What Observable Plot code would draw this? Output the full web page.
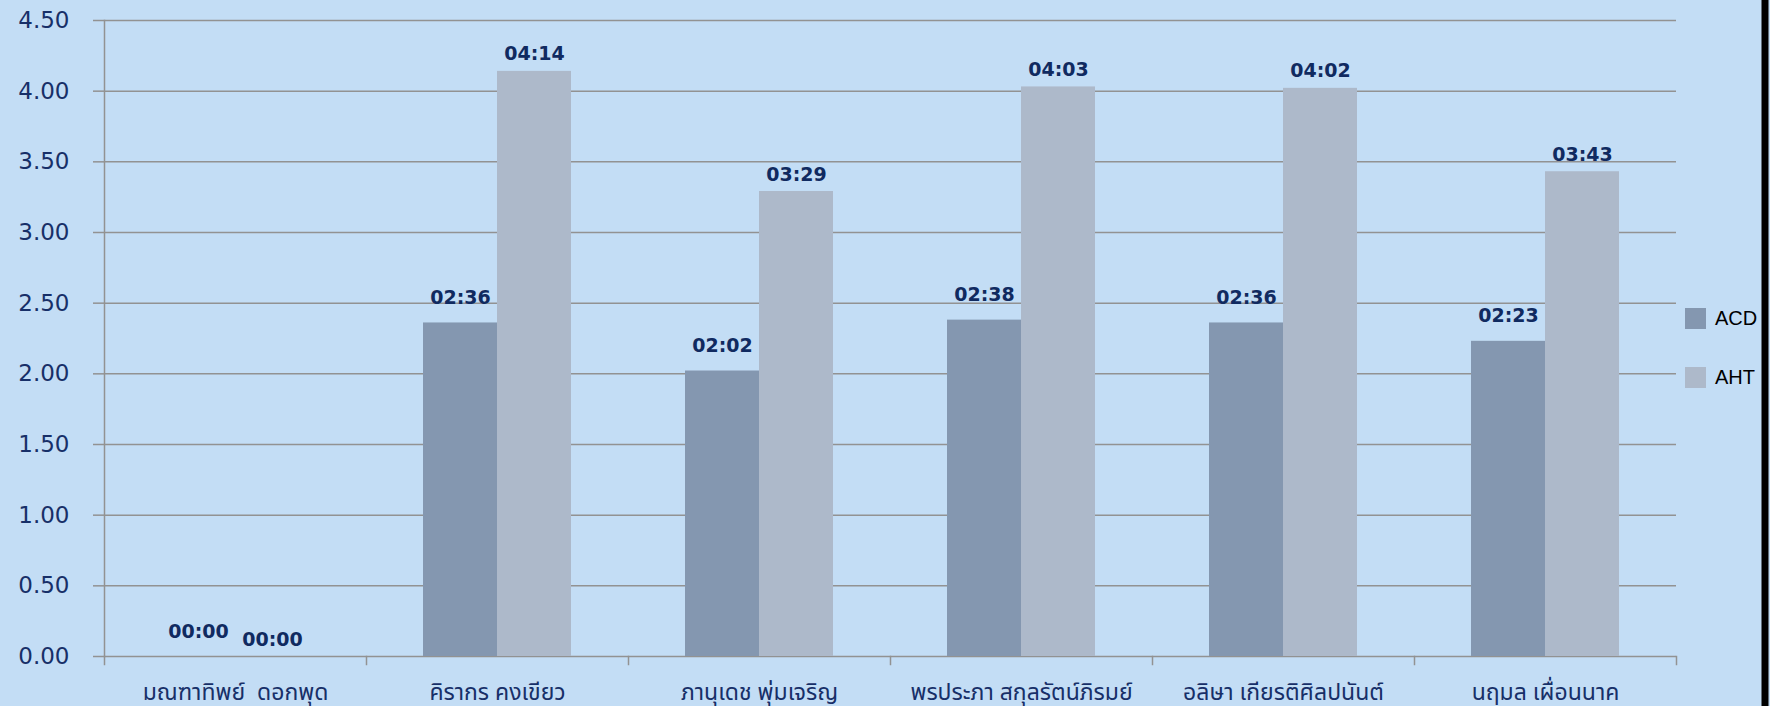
<!DOCTYPE html>
<html>
<head>
<meta charset="utf-8">
<script src="https://cdn.jsdelivr.net/npm/d3@7"></script>
<script src="https://cdn.jsdelivr.net/npm/@observablehq/plot@0.6"></script>
<style>
  html, body { margin: 0; padding: 0; background: #c3ddf5; overflow: hidden; }
  #wrap { position: relative; width: 1770px; height: 706px; overflow: hidden; background: #c3ddf5; }
  #wrap svg { display: block; position: absolute; left: 0; top: 0; }
  .legend { position: absolute; left: 1685px; display: flex; align-items: center; z-index: 5;
            font-family: "Liberation Sans", Arial, sans-serif; font-size: 20px; color: #000; }
  .sw { width: 21px; height: 21px; margin-right: 9px; }
</style>
</head>
<body>
<div id="wrap"></div>
<script>
const agents = ["มณฑาทิพย์  ดอกพุด", "คิรากร คงเขียว", "ภานุเดช พุ่มเจริญ", "พรประภา สกุลรัตน์ภิรมย์", "อลิษา เกียรติศิลปนันต์", "นฤมล เผื่อนนาค"];
const series = ["ACD", "AHT"];
const acdValues = [0, 2.36, 2.02, 2.38, 2.36, 2.23];
const ahtValues = [0, 4.14, 3.29, 4.03, 4.02, 3.43];
const acdLabels = ["00:00", "02:36", "02:02", "02:38", "02:36", "02:23"];
const ahtLabels = ["00:00", "04:14", "03:29", "04:03", "04:02", "03:43"];
const yTicks = [0, 0.5, 1, 1.5, 2, 2.5, 3, 3.5, 4, 4.5];
const seriesColors = ["#8497b0", "#adb9ca"];

const rows = [];
agents.forEach((a, i) => {
  rows.push({agent: a, series: "ACD", value: acdValues[i], label: acdLabels[i]});
  rows.push({agent: a, series: "AHT", value: ahtValues[i], label: ahtLabels[i]});
});

const W = 1770, H = 706;
const mTop = 20, mBottom = 50, mLeft = 102, mRight = 92;
const frameH = H - mTop - mBottom;
const gridColor = "#929292";
const navy = "#172f68";
const labelStyle = {text: "label", lineAnchor: "middle", fontWeight: "bold", fontSize: 19,
  fill: "#102a60", fontFamily: "DejaVu Sans", letterSpacing: "1.2px"};

const chart = Plot.plot({
  width: W, height: H,
  marginTop: mTop, marginBottom: mBottom, marginLeft: mLeft, marginRight: mRight,
  style: {background: "transparent", overflow: "visible"},
  fx: {domain: agents, padding: 0, label: null},
  x: {domain: series, paddingInner: 0, paddingOuter: 0.751, axis: null},
  y: {domain: [0, 4.5], label: null},
  color: {domain: series, range: seriesColors},
  marks: [
    Plot.gridY(yTicks, {stroke: gridColor, strokeOpacity: 1, strokeWidth: 1.5}),
    Plot.frame({anchor: "left", stroke: gridColor, strokeWidth: 1.5, insetTop: frameH, insetBottom: -8}),
    Plot.frame({anchor: "right", facetAnchor: "right", stroke: gridColor, strokeWidth: 1.5, insetTop: frameH, insetBottom: -8}),
    Plot.frame({anchor: "left", facetAnchor: "left", stroke: gridColor, strokeWidth: 1.5}),
    // black strip along the picture's right edge
    Plot.frame({anchor: "right", facetAnchor: "right", stroke: "#000", strokeWidth: 7,
      insetRight: -(mRight - 3.5), insetTop: -mTop, insetBottom: -mBottom}),
    Plot.axisY({ticks: yTicks, tickFormat: d3.format(".2f"), tickSize: 11, tickPadding: 24,
      stroke: gridColor, strokeWidth: 1.5, fill: navy, fontSize: 23, fontFamily: "DejaVu Sans", label: null}),
    Plot.barY(rows, {fx: "agent", x: "series", y: "value", fill: "series"}),
    Plot.text(rows.filter(d => d.series === "ACD"), {fx: "agent", x: "series", y: "value", dy: -25, ...labelStyle}),
    Plot.text(rows.filter(d => d.series === "AHT"), {fx: "agent", x: "series", y: "value", dy: -17, ...labelStyle}),
    Plot.axisFx({anchor: "bottom", tickSize: 0, tickPadding: 27, fontSize: 23, fill: navy,
      fontFamily: "Tahoma, 'Noto Sans Thai', 'Noto Sans', sans-serif", label: null})
  ]
});

const wrap = document.getElementById("wrap");
wrap.appendChild(chart);
const legendTops = [308, 367];
series.forEach((s, i) => {
  const item = document.createElement("div");
  item.className = "legend";
  item.style.top = (legendTops[i] - 1) + "px";
  const sw = document.createElement("div");
  sw.className = "sw";
  sw.style.background = seriesColors[i];
  const t = document.createElement("span");
  t.textContent = s;
  item.appendChild(sw);
  item.appendChild(t);
  wrap.appendChild(item);
});
</script>
</body>
</html>
